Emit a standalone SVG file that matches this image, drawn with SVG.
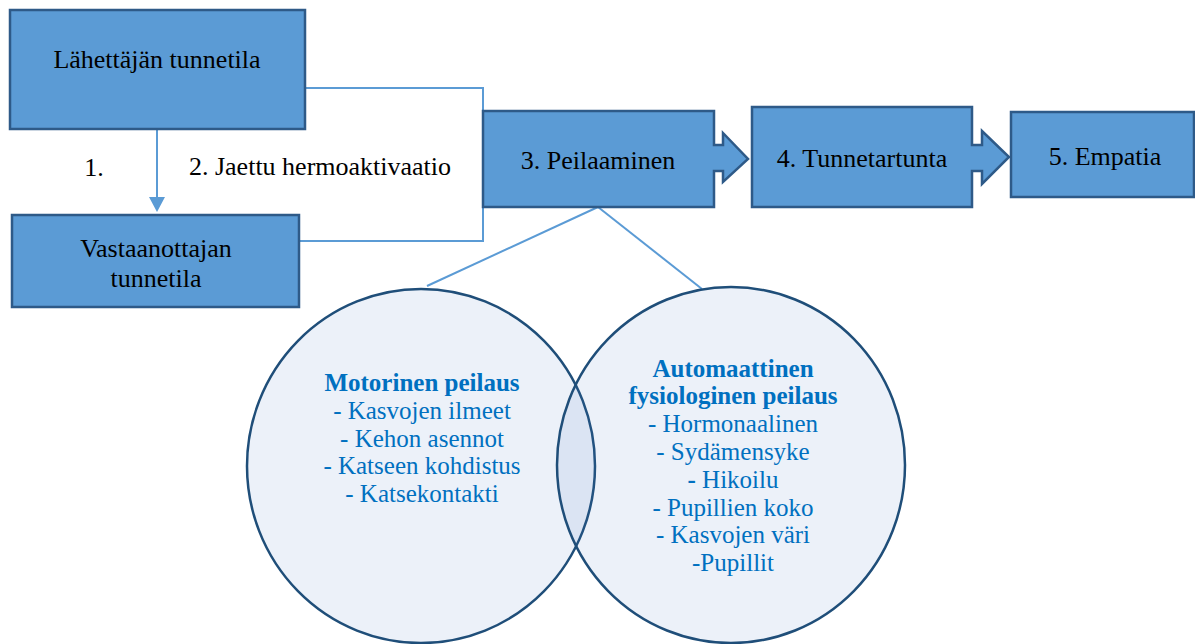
<svg xmlns="http://www.w3.org/2000/svg" width="1195" height="644" viewBox="0 0 1195 644">
<style>
.box{fill:#5B9BD5;stroke:#2E5A88;stroke-width:2.5}
.t{font-family:'Times New Roman','Liberation Serif',serif;font-size:26px;fill:#000;text-anchor:middle}
.c{font-family:'Times New Roman','Liberation Serif',serif;font-size:25px;fill:#0070C0;text-anchor:middle}
.b{font-weight:bold}
.ln{fill:none;stroke:#5B9BD5;stroke-width:2}
.circ{fill:#4472C4;fill-opacity:0.1;stroke:#1F4E79;stroke-width:2.5}
</style>
<rect width="1195" height="644" fill="#fff"/>
<g id="connectors">
<path class="ln" d="M305,88 H483 V241 H299"/>
<line class="ln" x1="157" y1="129" x2="157" y2="199"/>
<polygon points="149,197 165,197 157,212" fill="#5B9BD5"/>
<line class="ln" x1="598" y1="207" x2="427" y2="286"/>
<line class="ln" x1="598" y1="207" x2="702" y2="289"/>
</g>
<g id="n1"><rect class="box" x="10" y="10" width="295" height="119"/><text class="t" x="157" y="68">Lähettäjän tunnetila</text></g>
<g id="n2"><rect class="box" x="12" y="215" width="287" height="92"/><text class="t" x="156" y="257">Vastaanottajan</text><text class="t" x="156" y="287">tunnetila</text></g>
<g id="lbl1"><text class="t" x="94" y="176">1.</text></g>
<g id="lbl2"><text class="t" x="320" y="175">2. Jaettu hermoaktivaatio</text></g>
<g id="n3"><polygon class="box" points="483,111 714,111 714,145 723,145 723,133 748,159 723,182 723,171 714,171 714,207 483,207"/><text class="t" x="598" y="169">3. Peilaaminen</text></g>
<g id="n4"><polygon class="box" points="752,107 972,107 972,145 982,145 982,131 1009,157 982,184 982,171 972,171 972,207 752,207"/><text class="t" x="862" y="167">4. Tunnetartunta</text></g>
<g id="n5"><rect class="box" x="1011" y="112" width="183" height="85"/><text class="t" x="1105" y="165">5. Empatia</text></g>
<g id="c1"><ellipse class="circ" cx="421" cy="466" rx="174" ry="177"/></g>
<g id="c2"><ellipse class="circ" cx="731" cy="465" rx="174" ry="178"/></g>
<g id="c1text">
<text class="c b" x="422" y="391">Motorinen peilaus</text>
<text class="c" x="422" y="419">- Kasvojen ilmeet</text>
<text class="c" x="422" y="447">- Kehon asennot</text>
<text class="c" x="422" y="474">- Katseen kohdistus</text>
<text class="c" x="422" y="502">- Katsekontakti</text>
</g>
<g id="c2text">
<text class="c b" x="733" y="377">Automaattinen</text>
<text class="c b" x="733" y="404">fysiologinen peilaus</text>
<text class="c" x="733" y="432">- Hormonaalinen</text>
<text class="c" x="733" y="460">- Sydämensyke</text>
<text class="c" x="733" y="488"><tspan font-weight="bold">-</tspan> Hikoilu</text>
<text class="c" x="733" y="516">- Pupillien koko</text>
<text class="c" x="733" y="543">- Kasvojen väri</text>
<text class="c" x="733" y="571">-Pupillit</text>
</g>
</svg>
